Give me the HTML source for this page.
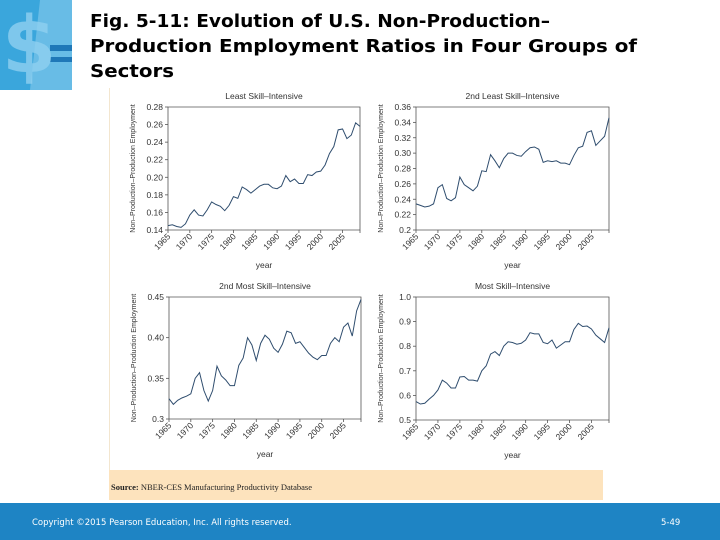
<!DOCTYPE html>
<html><head><meta charset="utf-8"><style>
html,body{margin:0;padding:0;background:#fff}
svg{display:block;font-family:"Liberation Sans",sans-serif}
</style></head><body>
<svg id="root" width="720" height="540" viewBox="0 0 720 540" xmlns="http://www.w3.org/2000/svg">
<g>
<rect x="0" y="0" width="72" height="90" fill="#3aa6dc"/>
<polygon points="40,0 72,0 72,90 30,90" fill="#7cc6ea" opacity="0.7"/>
<rect x="50" y="45" width="22" height="6" fill="#1f78b8"/>
<rect x="50" y="57" width="22" height="5" fill="#1f78b8"/>
<text x="2" y="72" font-size="78" font-weight="bold" fill="#8fd0f0" opacity="0.8" font-family="DejaVu Sans,sans-serif">$</text>
</g>
<g font-family="DejaVu Sans,Liberation Sans,sans-serif" font-weight="bold" font-size="18" fill="#000">
<text x="90" y="27" textLength="460" lengthAdjust="spacingAndGlyphs">Fig. 5-11: Evolution of U.S. Non-Production–</text>
<text x="90" y="52" textLength="547" lengthAdjust="spacingAndGlyphs">Production Employment Ratios in Four Groups of</text>
<text x="90" y="77" textLength="84" lengthAdjust="spacingAndGlyphs">Sectors</text>
</g>
<rect x="108" y="88" width="512" height="412" fill="#fff"/>
<line x1="109.5" y1="88" x2="109.5" y2="470" stroke="#f3e6cf" stroke-width="1"/>
<rect x="109" y="470" width="494" height="30" fill="#fde3bd"/>
<text x="111" y="490" font-family="Liberation Serif,serif" font-size="8.5" fill="#222"><tspan font-weight="bold">Source:</tspan> NBER-CES Manufacturing Productivity Database</text>
<rect x="0" y="503" width="720" height="37" fill="#1e84c4"/>
<text x="32" y="525" font-family="DejaVu Sans,sans-serif" font-size="8.5" fill="#fff">Copyright ©2015 Pearson Education, Inc. All rights reserved.</text>
<text x="661" y="525" font-family="DejaVu Sans,sans-serif" font-size="8.5" fill="#fff">5-49</text>
<g id="charts"></g>
</svg>
<script>
const years = [];
for (let y = 1965; y <= 2009; y++) years.push(y);
const tickYears = [1965,1970,1975,1980,1985,1990,1995,2000,2005];
const leastValues = [.145,.146,.144,.143,.147,.157,.163,.157,.156,.163,.172,.169,.167,.162,.168,.178,.176,.189,.186,.182,.186,.19,.192,.192,.188,.187,.190,.202,.195,.198,.193,.193,.203,.202,.206,.207,.214,.227,.235,.254,.255,.244,.248,.262,.258];
const secondLeastValues = [.234,.232,.230,.231,.234,.255,.259,.241,.238,.242,.269,.259,.255,.251,.257,.277,.276,.298,.290,.281,.293,.300,.300,.297,.296,.302,.307,.308,.305,.288,.290,.289,.290,.287,.287,.285,.297,.307,.309,.327,.329,.310,.316,.322,.346];
const secondMostValues = [.325,.318,.323,.326,.328,.331,.350,.357,.335,.322,.335,.365,.353,.348,.341,.341,.366,.375,.400,.391,.372,.393,.403,.398,.387,.382,.392,.408,.406,.393,.395,.388,.381,.376,.373,.378,.378,.393,.400,.395,.413,.418,.402,.433,.447];
const mostValues = [.575,.565,.568,.585,.600,.622,.662,.650,.630,.630,.675,.677,.662,.662,.658,.700,.720,.768,.778,.762,.800,.818,.815,.808,.812,.825,.855,.850,.850,.815,.810,.825,.792,.805,.818,.818,.868,.893,.880,.882,.870,.845,.830,.815,.875];
const leastTicks = ["0.14","0.16","0.18","0.20","0.22","0.24","0.26","0.28"];
const secondLeastTicks = ["0.2","0.22","0.24","0.26","0.28","0.30","0.32","0.34","0.36"];
const secondMostTicks = ["0.3","0.35","0.40","0.45"];
const mostTicks = ["0.5","0.6","0.7","0.8","0.9","1.0"];

const NS = "http://www.w3.org/2000/svg";
function mk(tag, attrs, parent) {
  const e = document.createElementNS(NS, tag);
  for (const k in attrs) e.setAttribute(k, attrs[k]);
  parent.appendChild(e);
  return e;
}
const root = document.getElementById('charts');

function chart(name, title, values, ticks, box) {
  const g = mk('g', {}, root);
  
  
  const {l, r, t, b} = box;
  const yMin = parseFloat(ticks[0]), yMax = parseFloat(ticks[ticks.length-1]);
  const x = v => l + (v - years[0]) / (years[years.length-1] - years[0]) * (r - l);
  const y = v => b - (v - yMin) / (yMax - yMin) * (b - t);
  const tt = mk('text', {x: (l+r)/2, y: t-8, 'text-anchor':'middle', 'font-size':8.5, fill:'#333'}, g);
  tt.textContent = title;
  
  
  const frame = mk('path', {d:`M${l},${t}H${r}V${b}H${l}Z`, fill:'none', stroke:'#555', 'stroke-width':0.8}, g);
  
  
  ticks.forEach(tk => {
    const yy = y(parseFloat(tk));
    mk('line', {x1:l-3, x2:l, y1:yy, y2:yy, stroke:'#555', 'stroke-width':0.8}, g);
    const tx = mk('text', {x:l-5, y:yy+3, 'text-anchor':'end', 'font-size':8.5, fill:'#333'}, g);
    tx.textContent = tk;
    
    
  });
  tickYears.forEach(yr => {
    const xx = x(yr);
    mk('line', {x1:xx, x2:xx, y1:b, y2:b+3, stroke:'#555', 'stroke-width':0.8}, g);
    const tx = mk('text', {x:xx+3, y:b+7, 'text-anchor':'end', 'font-size':8.5, fill:'#333', transform:`rotate(-45 ${xx+3} ${b+7})`}, g);
    tx.textContent = yr;
    
    
  });
  mk('line', {x1:r, x2:r, y1:b, y2:b+3, stroke:'#555', 'stroke-width':0.8}, g);
  const xl = mk('text', {x:(l+r)/2, y:b+38, 'text-anchor':'middle', 'font-size':8.5, fill:'#333'}, g);
  xl.textContent = 'year';
  
  
  const cy = (t+b)/2, cx = l-33;
  const yl = mk('text', {x:cx, y:cy, 'text-anchor':'middle', 'font-size':7, fill:'#333', transform:`rotate(-90 ${cx} ${cy})`}, g);
  yl.textContent = 'Non–Production–Production Employment';
  
  
  const d = values.map((v,i) => (i?'L':'M') + x(years[i]).toFixed(2) + ',' + y(v).toFixed(2)).join('');
  const p = mk('path', {d, fill:'none', stroke:'#2f4d6e', 'stroke-width':1}, g);
  
  
}
chart('chart-least-skill', 'Least Skill–Intensive', leastValues, leastTicks, {l:168,r:360,t:107,b:230});
chart('chart-2nd-least-skill', '2nd Least Skill–Intensive', secondLeastValues, secondLeastTicks, {l:416,r:609,t:107,b:230});
chart('chart-2nd-most-skill', '2nd Most Skill–Intensive', secondMostValues, secondMostTicks, {l:169,r:361,t:297,b:419});
chart('chart-most-skill', 'Most Skill–Intensive', mostValues, mostTicks, {l:416,r:609,t:297,b:420});
</script>
</body></html>
